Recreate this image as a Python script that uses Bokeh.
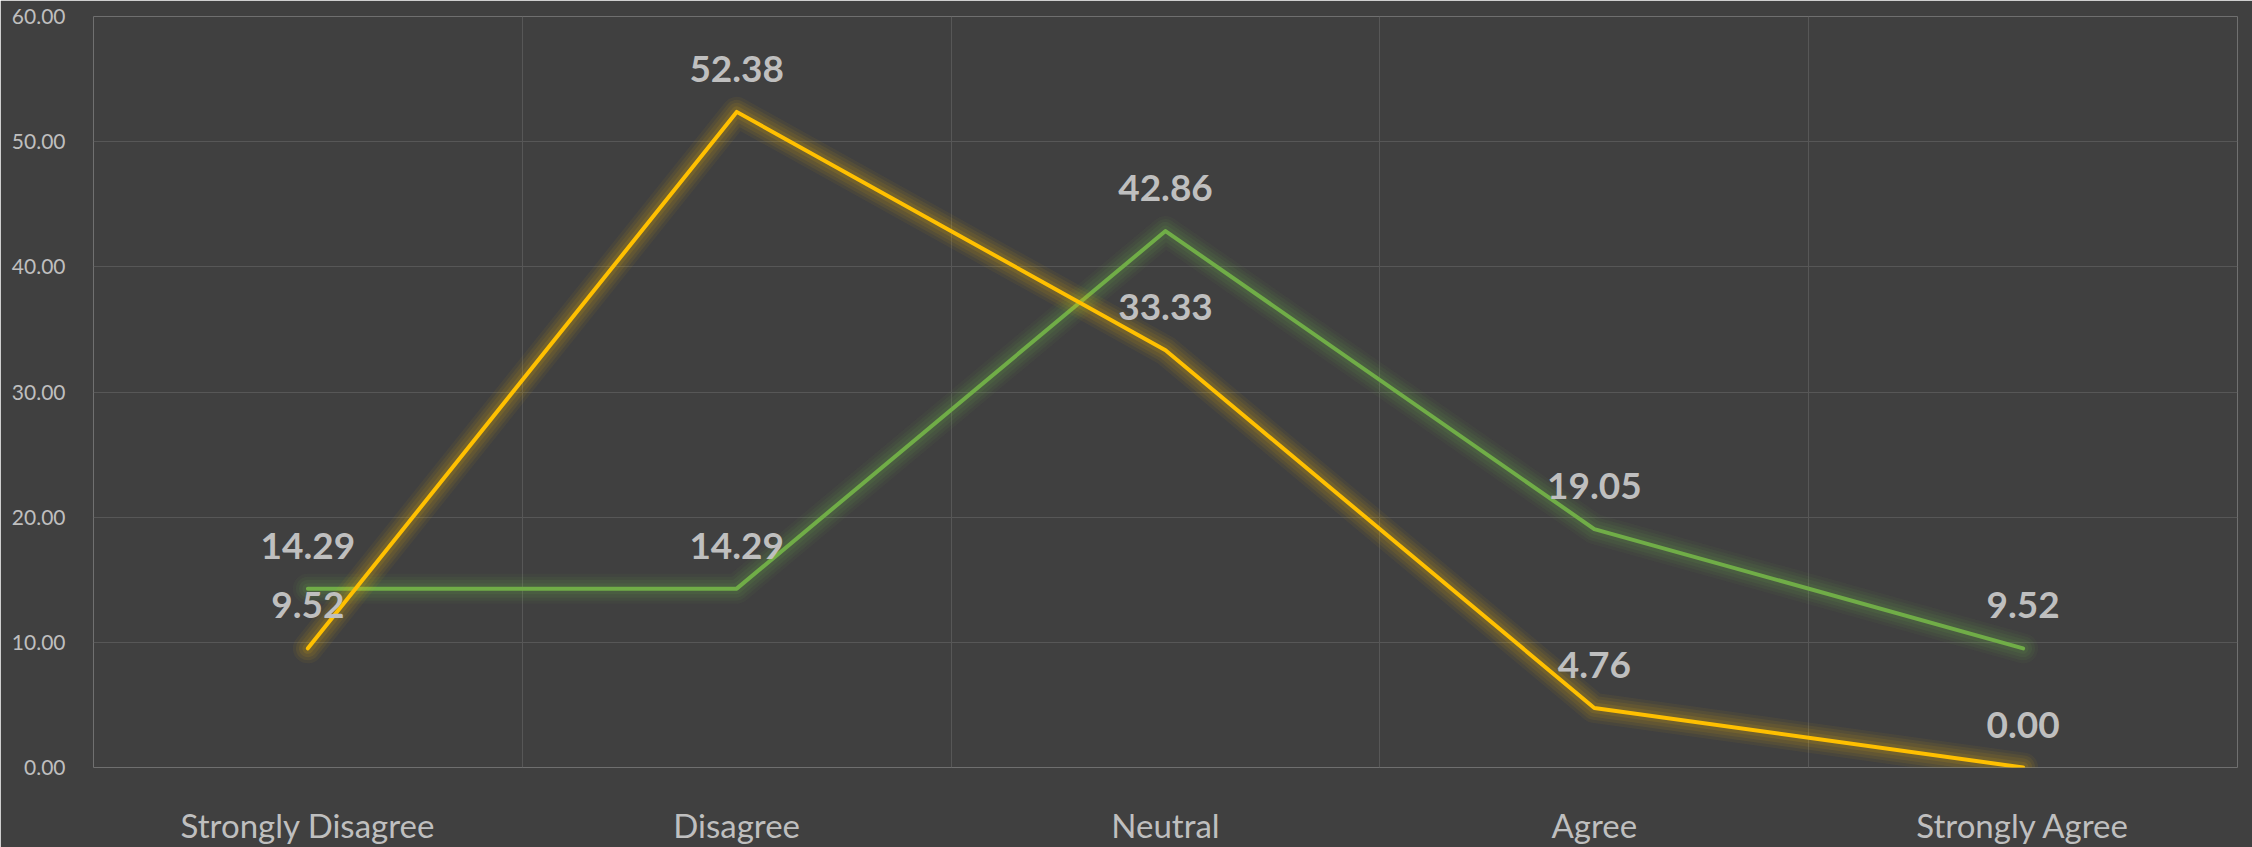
from bokeh.plotting import figure
from bokeh.models import Range1d, FixedTicker, NumeralTickFormatter, ColumnDataSource, LabelSet
from bokeh.core.properties import value
from bokeh.embed import file_html
from bokeh.resources import INLINE

categories = ["Strongly Disagree", "Disagree", "Neutral", "Agree", "Strongly Agree"]
green_values = [14.29, 14.29, 42.86, 19.05, 9.52]
yellow_values = [9.52, 52.38, 33.33, 4.76, 0.00]
y_ticks = [0, 10, 20, 30, 40, 50, 60]

BG = "#404040"
GRID = "#575757"
TXT = "#bfbfbf"
GREEN = "#70AD47"
YELLOW = "#FFC000"
FONT = "Lato"

xs = [i + 0.5 for i in range(len(categories))]

p = figure(width=2252, height=847, output_backend="svg", toolbar_location=None,
           x_range=Range1d(0, len(categories)), y_range=Range1d(0, 60))
p.min_border = 0
p.min_border_left = 93
p.min_border_right = 15
p.min_border_top = 16
p.min_border_bottom = 75
p.background_fill_color = BG
p.border_fill_color = BG
p.outline_line_color = None

# grids at category band boundaries
p.xgrid.ticker = FixedTicker(ticks=list(range(len(categories) + 1)))
p.ygrid.ticker = FixedTicker(ticks=y_ticks)
for g in (p.xgrid, p.ygrid):
    g.grid_line_color = GRID
    g.grid_line_width = 1

# x axis
p.xaxis.ticker = FixedTicker(ticks=xs)
p.xaxis.major_label_overrides = {x: c for x, c in zip(xs, categories)}
p.xaxis.major_label_text_font = FONT
p.xaxis.major_label_text_font_size = "33px"
p.xaxis.major_label_text_color = TXT
p.xaxis.major_label_standoff = 31
# y axis
p.yaxis.ticker = FixedTicker(ticks=y_ticks)
p.yaxis.formatter = NumeralTickFormatter(format="0.00")
p.yaxis.major_label_text_font = FONT
p.yaxis.major_label_text_font_size = "21px"
p.yaxis.major_label_text_color = TXT
p.yaxis.major_label_standoff = 22
for ax in (p.xaxis, p.yaxis):
    ax.axis_line_color = None
    ax.major_tick_line_color = None
    ax.minor_tick_line_color = None

src = ColumnDataSource(dict(
    x=xs, g=green_values, yv=yellow_values,
    gl=["%.2f" % v for v in green_values],
    yl=["%.2f" % v for v in yellow_values],
))

glow_layers = [(30, 0.05), (24, 0.065), (18, 0.08), (11, 0.1)]

def draw_series(col, color):
    for w, a in glow_layers:
        p.line("x", col, source=src, line_color=color, line_width=w, line_alpha=a,
               line_cap="round", line_join="round")
    p.line("x", col, source=src, line_color=color, line_width=4,
           line_cap="round", line_join="round")

draw_series("g", GREEN)
draw_series("yv", YELLOW)

for col, lab in (("g", "gl"), ("yv", "yl")):
    ls = LabelSet(x="x", y=col, text=lab, source=src, y_offset=43,
                  text_align="center", text_baseline="middle",
                  text_font=value(FONT), text_font_style="bold", text_font_size="37px",
                  text_color=TXT)
    p.add_layout(ls)

open("out.html", "w").write(file_html(p, INLINE))
